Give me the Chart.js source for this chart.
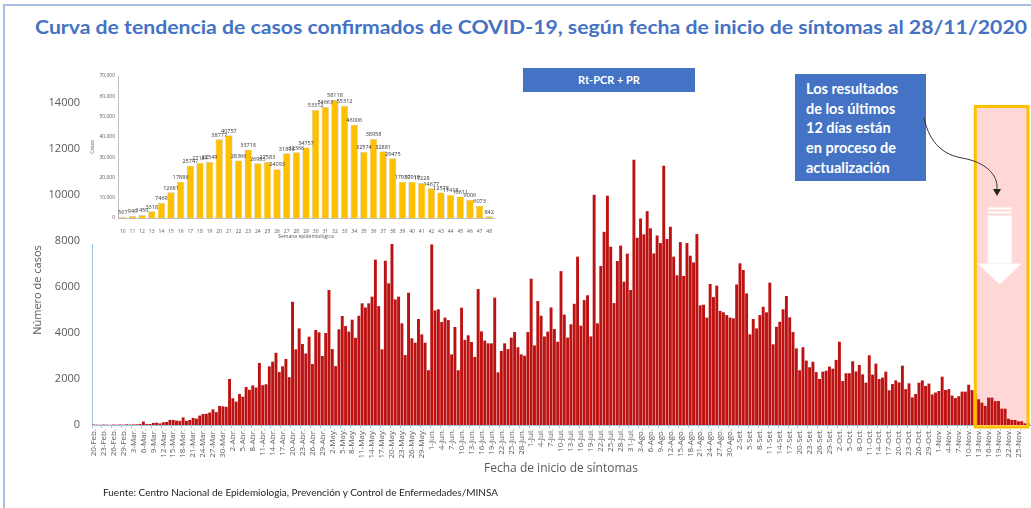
<!DOCTYPE html>
<html lang="es">
<head>
<meta charset="utf-8">
<title>Curva de tendencia de casos confirmados de COVID-19</title>
<script src="https://cdn.jsdelivr.net/npm/chart.js@4.4.0/dist/chart.umd.min.js"></script>
<style>
  html, body { margin: 0; padding: 0; background: #fff; }
  #pagina { position: relative; width: 1031px; height: 508px; overflow: hidden; font-family: 'Lato', 'Open Sans', sans-serif; }
  #marco { position: absolute; left: 3px; top: 4px; width: 1060px; height: 540px; border-top: 2px solid #A9BDE3; border-left: 2px solid #A9BDE3; }
  #titulo { position: absolute; left: 35px; top: 15px; white-space: nowrap; color: #4472C4; font-weight: 700; font-size: 19px; transform-origin: 0 50%; }
  #principal { position: absolute; left: 0; top: 0; }
  #recuadro { position: absolute; left: 90px; top: 62px; width: 418px; height: 182px; background: #fff; }
  #metodo { position: absolute; left: 523px; top: 68px; width: 172px; height: 24px; background: #4472C4; color: #fff; font-weight: 700; font-size: 11px; line-height: 24px; text-align: center; }
  #nota { position: absolute; left: 795px; top: 74px; width: 131px; height: 107px; box-sizing: border-box; padding: 5px 0 0 11px; background: #4472C4; color: #fff; font-weight: 700; font-size: 14.5px; line-height: 19.7px; }
  #flecha { position: absolute; left: 0; top: 0; pointer-events: none; }
  #fuente { position: absolute; left: 103px; top: 486px; font-size: 10px; color: #1f1f1f; white-space: nowrap; }
</style>
</head>
<body>
<div id="pagina">
  <div id="marco"></div>
  <div id="titulo">Curva de tendencia de casos confirmados de COVID-19, según fecha de inicio de síntomas al 28/11/2020</div>
  <canvas id="principal" width="1031" height="508"></canvas>
  <div id="recuadro"><canvas id="semanal" width="418" height="182"></canvas></div>
  <div id="metodo">Rt-PCR + PR</div>
  <div id="nota">Los resultados<br>de los últimos<br>12 días están<br>en proceso de<br>actualización</div>
  <svg id="flecha" width="1031" height="508">
    <path d="M924 118 C 930 145, 945 155, 962 158 C 985 162, 998 174, 997 189" stroke="#333" stroke-width="1" fill="none"/>
    <polygon points="993,189 1001,189 997,196" fill="#222"/>
  </svg>
  <div id="fuente">Fuente: Centro Nacional de Epidemiologia, Prevención y Control de Enfermedades/MINSA</div>
</div>
<script>
// casos por fecha de inicio de síntomas, desde el 20 de febrero hasta el 28 de noviembre
const casosDiarios = [
  20, 15, 10, 20, 15, 10, 20, 15, 25, 15, 30, 20, 25, 30, 40,
  150, 40, 45, 90, 100, 70, 120, 130, 220, 220, 190, 180, 330, 180, 220, 310, 280, 410, 480, 490, 540, 680, 560, 830, 810, 790,
  2000, 1160, 1015, 1350, 1230, 1650, 1530, 1720, 1630, 2700, 1730, 1770, 2550, 2750, 3140, 2300, 2550, 2870, 2080, 5360,
  3290, 4200, 3520, 3110, 3840, 2650, 4130, 4030, 3000, 4000, 5870, 3300, 2560, 4160, 4740, 4300, 4060, 4580, 3790, 4750,
  5290, 5110, 5290, 5580, 7190, 5170, 3290, 7140, 6160, 8000, 5460, 5580, 4420, 3040, 5750, 3770, 3580, 4610, 3940, 3580,
  2380, 7850, 4980, 5030, 4480, 4670, 4560, 3070, 4260, 2380, 5100, 3700, 3900, 3610, 2960, 5910, 4070, 3670, 3550, 3550,
  5540, 2290, 3220, 3550, 3300, 3800, 4040, 3380, 3070, 3010, 4040, 6360, 3460, 5390, 4750, 3850, 4060, 5110, 4170, 3620,
  6690, 4800, 3800, 4380, 5270, 7320, 4320, 5430, 5640, 3850, 10010, 4420, 6910, 8400, 9970, 7750, 5300, 7130, 7800, 6230,
  7450, 5870, 11530, 8140, 8980, 8290, 9300, 8550, 7460, 8240, 7910, 11270, 8090, 8620, 7320, 6510, 7950, 6480, 7910, 7360,
  7070, 8300, 5200, 5230, 4670, 6130, 5560, 6060, 4960, 4900, 4780, 4670, 4640, 6110, 7030, 6740, 5720, 3940, 4610, 4200,
  4780, 5140, 4900, 6190, 3510, 4270, 4490, 5030, 5610, 4680, 4040, 3330, 2380, 3380, 2800, 2510, 2750, 2300, 2000, 2320,
  2360, 2540, 2450, 2830, 3620, 1910, 2250, 2250, 2770, 2330, 2610, 2200, 1840, 3030, 2190, 2670, 2000, 2060, 2320, 1510,
  1780, 1940, 1850, 2580, 1560, 1810, 1200, 1350, 1840, 1940, 1700, 1800, 1330, 1410, 1480, 2100, 1520, 1560, 1280, 1170,
  1250, 1450, 1450, 1750, 1520, 1350, 1120, 970, 830, 1190, 1190, 1040, 1040, 710, 710, 275, 220, 220, 160, 160, 70, 70
];
const meses = ['Feb', 'Mar', 'Abr', 'May', 'Jun', 'Jul', 'Ago', 'Set', 'Oct', 'Nov'];
const diasPorMes = [29, 31, 30, 31, 30, 31, 31, 30, 31, 30];
const ticksY = [0, 14000, 2000];

// curva por semana epidemiológica (gráfico pequeño)
const semanas = ['10', '11', '12', '13', '14', '15', '16', '17', '18', '19', '20', '21', '22', '23', '24', '25', '26', '27', '28', '29',
  '30', '31', '32', '33', '34', '35', '36', '37', '38', '39', '40', '41', '42', '43', '44', '45', '46', '47', '48'];
const casosSemana = [567, 949, 1450, 3318, 7469, 12681, 17886, 25747, 27184, 27549, 38777, 40757, 28366, 33718, 26985, 27583, 24093, 31893, 32366, 34757,
  53312, 54663, 58118, 55312, 46006, 32574, 38958, 32881, 29475, 17930, 17918, 17228, 14677, 12578, 11418, 10611, 9006, 6073, 842];

// índice del primer día dentro del recuadro "en proceso de actualización"
const inicioPendiente = 266;

const fechas = [];
for (let m = 0; m < meses.length; m++) {
  for (let d = (m === 0 ? 20 : 1); d <= diasPorMes[m]; d++) {
    if (fechas.length < casosDiarios.length) fechas.push(d + '-' + meses[m] + '.');
  }
}

Chart.defaults.font.family = "'Open Sans', 'Liberation Sans', sans-serif";

const titulo = document.getElementById('titulo');
titulo.style.transform = 'scaleX(' + (992 / titulo.getBoundingClientRect().width) + ')';

const zonaPendiente = {
  id: 'zonaPendiente',
  beforeDatasetsDraw(chart) {
    const {ctx, chartArea, scales: {x, y}} = chart;
    const izq = x.getPixelForValue(inicioPendiente);
    const arriba = y.getPixelForValue(13850);
    ctx.save();
    ctx.fillStyle = '#FFD7D7';
    ctx.fillRect(izq, arriba, chartArea.right - 2 - izq, y.getPixelForValue(0) + 2 - arriba);
    ctx.restore();
  },
  afterDatasetsDraw(chart) {
    const {ctx, chartArea, scales: {x, y}} = chart;
    const izq = x.getPixelForValue(inicioPendiente);
    const der = chartArea.right - 2;
    const arriba = y.getPixelForValue(13850);
    const abajo = y.getPixelForValue(0) + 2;
    ctx.save();
    ctx.strokeStyle = '#FFC000';
    ctx.lineWidth = 3;
    ctx.strokeRect(izq, arriba, der - izq, abajo - arriba);
    // flecha blanca hacia abajo
    const cx = (izq + der) / 2 - 2;
    ctx.fillStyle = '#fff';
    ctx.fillRect(cx - 12, arriba + 101, 24, 2);
    ctx.fillRect(cx - 12, arriba + 105, 24, 2);
    ctx.fillRect(cx - 12, arriba + 109, 24, 48);
    ctx.beginPath();
    ctx.moveTo(cx - 22, arriba + 157);
    ctx.lineTo(cx + 22, arriba + 157);
    ctx.lineTo(cx, arriba + 178);
    ctx.closePath();
    ctx.fill();
    // título del eje Y
    ctx.fillStyle = '#595959';
    ctx.font = "11px 'Open Sans', sans-serif";
    ctx.textAlign = 'center';
    ctx.textBaseline = 'middle';
    ctx.translate(38, 290);
    ctx.rotate(-Math.PI / 2);
    ctx.fillText('Número de casos', 0, 0);
    ctx.restore();
  }
};

new Chart(document.getElementById('principal'), {
  type: 'bar',
  data: {
    labels: fechas,
    datasets: [{
      data: casosDiarios,
      backgroundColor: '#BD1212',
      borderWidth: 0,
      barPercentage: 1,
      categoryPercentage: 0.88
    }]
  },
  options: {
    responsive: false,
    animation: false,
    layout: { padding: { top: 103, right: 1, bottom: 28, left: 0 } },
    plugins: { legend: { display: false }, tooltip: { enabled: false } },
    scales: {
      x: {
        grid: {
          drawOnChartArea: false,
          tickLength: 3,
          color: c => c.index % 3 === 0 ? '#9DC3E6' : 'rgba(0,0,0,0)'
        },
        border: { color: '#9DC3E6' },
        ticks: {
          autoSkip: false,
          minRotation: 90,
          maxRotation: 90,
          padding: 1,
          color: '#595959',
          font: { size: 8 },
          callback: function (v, i) { return i % 3 === 0 && i < fechas.length - 1 ? this.getLabelForValue(v) : ''; }
        },
        title: {
          display: true,
          text: 'Fecha de inicio de síntomas',
          color: '#595959',
          font: { size: 12 },
          padding: { top: 0, bottom: 4 }
        },
        afterFit(s) { s.height = 55; s.paddingLeft = 0; s.paddingRight = 0; }
      },
      y: {
        min: ticksY[0],
        max: ticksY[1],
        ticks: { stepSize: ticksY[2], color: '#595959', font: { size: 11 }, padding: 12, callback: v => String(v) },
        grid: { display: false, drawTicks: false },
        border: { color: '#9DC3E6' },
        afterFit(s) { s.width = 92; }
      }
    }
  },
  plugins: [zonaPendiente]
});

const etiquetas = {
  id: 'etiquetas',
  afterDatasetsDraw(chart) {
    const {ctx} = chart;
    ctx.save();
    ctx.fillStyle = '#333';
    ctx.font = "5.5px 'Open Sans', sans-serif";
    ctx.textAlign = 'center';
    ctx.textBaseline = 'bottom';
    chart.getDatasetMeta(0).data.forEach((barra, i) => {
      ctx.fillText(casosSemana[i], barra.x, barra.y - 1.5);
    });
    ctx.restore();
  }
};

new Chart(document.getElementById('semanal'), {
  type: 'bar',
  data: {
    labels: semanas,
    datasets: [{
      data: casosSemana,
      backgroundColor: '#FFC000',
      borderColor: 'rgba(150, 150, 150, 0.5)',
      borderWidth: 0.6,
      barPercentage: 0.76,
      categoryPercentage: 1
    }]
  },
  options: {
    responsive: false,
    animation: false,
    layout: { padding: { top: 14, right: 14, left: 0, bottom: 0 } },
    plugins: { legend: { display: false }, tooltip: { enabled: false } },
    scales: {
      x: {
        grid: { display: false },
        border: { color: '#BFBFBF' },
        ticks: { autoSkip: false, maxRotation: 0, padding: 3, color: '#595959', font: { size: 5 } },
        title: { display: true, text: 'Semana epidemiológica', color: '#595959', font: { size: 5 }, padding: { top: 0, bottom: 4 } },
        afterFit(s) { s.height = 26; s.paddingLeft = 0; s.paddingRight = 0; }
      },
      y: {
        min: 0,
        max: 70000,
        ticks: { stepSize: 10000, padding: 3, color: '#595959', font: { size: 5 }, callback: v => v.toLocaleString('en-US') },
        grid: { display: false, drawTicks: false },
        border: { color: '#BFBFBF' },
        title: { display: true, text: 'Casos', color: '#595959', font: { size: 5 }, padding: 0 },
        afterFit(s) { s.width = 28; }
      }
    }
  },
  plugins: [etiquetas]
});
</script>
</body>
</html>
